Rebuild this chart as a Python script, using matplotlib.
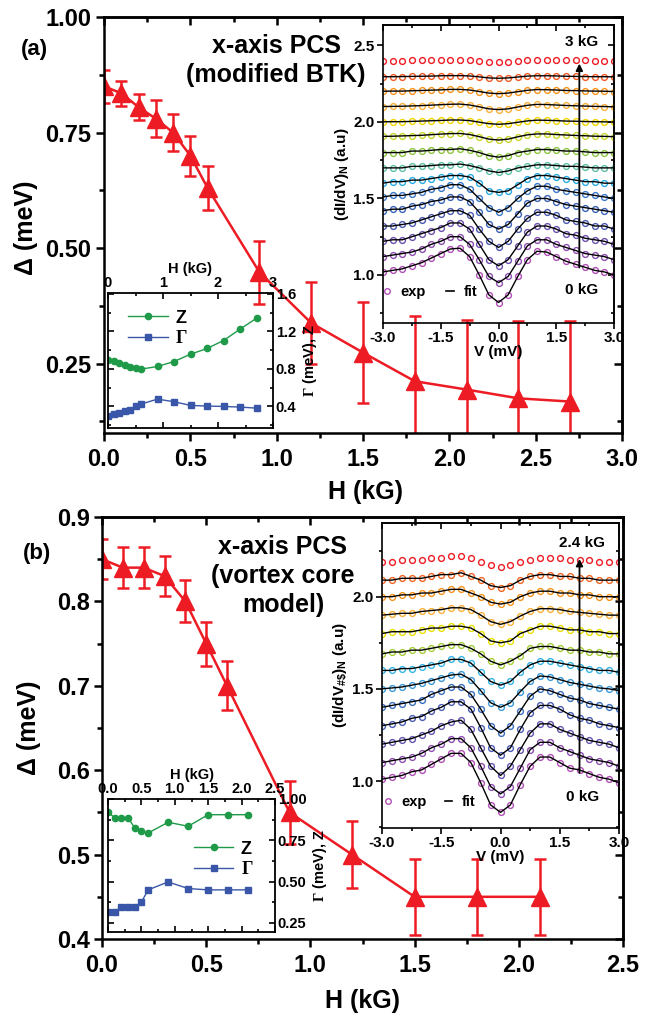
import matplotlib
matplotlib.use('Agg')
import matplotlib.pyplot as plt
from matplotlib.lines import Line2D
from matplotlib.ticker import MultipleLocator, FormatStrFormatter

plt.rcParams['font.family'] = ['Liberation Sans', 'DejaVu Sans']
plt.rcParams['font.weight'] = 'bold'
plt.rcParams['axes.labelweight'] = 'bold'
plt.rcParams['mathtext.fontset'] = 'custom'
plt.rcParams['mathtext.rm'] = 'Liberation Serif:bold'
plt.rcParams['mathtext.bf'] = 'Liberation Sans:bold'
plt.rcParams['mathtext.it'] = 'Liberation Sans:bold'
plt.rcParams['mathtext.default'] = 'bf'

# ---- main panels: gap vs field ----
H_a = [0, 0.1, 0.2, 0.3, 0.4, 0.5, 0.6, 0.9, 1.2, 1.5, 1.8, 2.1, 2.4, 2.7]
gap_a = [0.85, 0.835, 0.805, 0.78, 0.75, 0.70, 0.63, 0.448, 0.338, 0.274, 0.212, 0.194, 0.175, 0.168]
err_a = [0.035, 0.027, 0.028, 0.04, 0.04, 0.043, 0.048, 0.068, 0.088, 0.11, 0.142, 0.151, 0.168, 0.175]

H_b = [0, 0.1, 0.2, 0.3, 0.4, 0.5, 0.6, 0.9, 1.2, 1.5, 1.8, 2.1]
gap_b = [0.85, 0.84, 0.84, 0.83, 0.80, 0.75, 0.70, 0.55, 0.50, 0.45, 0.45, 0.45]
err_b = [0.024, 0.024, 0.024, 0.024, 0.025, 0.026, 0.029, 0.037, 0.04, 0.045, 0.045, 0.045]

# ---- small insets: Z and Gamma ----
z_a = [0.897, 0.883, 0.865, 0.844, 0.816, 0.805, 0.798, 0.826, 0.879, 0.957, 1.018, 1.103, 1.224, 1.341]
gam_a = [0.301, 0.322, 0.329, 0.347, 0.365, 0.400, 0.425, 0.478, 0.450, 0.411, 0.404, 0.400, 0.393, 0.382]
z_b = [0.919, 0.887, 0.887, 0.887, 0.825, 0.804, 0.794, 0.859, 0.835, 0.905, 0.905, 0.905]
gam_b = [0.317, 0.317, 0.345, 0.345, 0.345, 0.375, 0.450, 0.498, 0.458, 0.450, 0.450, 0.450]

# ---- spectra insets ----
V = [-3.0, -2.75, -2.5, -2.25, -2.0, -1.75, -1.5, -1.25, -1.0, -0.75, -0.5, -0.25, 0.0,
     0.25, 0.5, 0.75, 1.0, 1.25, 1.5, 1.75, 2.0, 2.25, 2.5, 2.75, 3.0]

spectra_a = [
    [1.02, 1.03, 1.04, 1.06, 1.08, 1.11, 1.14, 1.17, 1.175, 1.12, 1.00, 0.87, 0.82, 0.87, 0.99, 1.10, 1.155, 1.15, 1.12, 1.09, 1.07, 1.05, 1.03, 1.02, 1.00],
    [1.12, 1.13, 1.14, 1.15, 1.17, 1.20, 1.22, 1.25, 1.25, 1.20, 1.10, 0.99, 0.95, 0.99, 1.09, 1.19, 1.23, 1.23, 1.20, 1.18, 1.16, 1.14, 1.13, 1.12, 1.10],
    [1.22, 1.23, 1.23, 1.25, 1.27, 1.29, 1.31, 1.34, 1.34, 1.30, 1.20, 1.10, 1.06, 1.10, 1.19, 1.28, 1.32, 1.32, 1.30, 1.27, 1.26, 1.24, 1.23, 1.22, 1.20],
    [1.32, 1.32, 1.33, 1.34, 1.36, 1.38, 1.40, 1.42, 1.42, 1.39, 1.30, 1.22, 1.18, 1.22, 1.30, 1.37, 1.41, 1.41, 1.39, 1.36, 1.35, 1.34, 1.32, 1.32, 1.30],
    [1.42, 1.43, 1.43, 1.45, 1.46, 1.48, 1.49, 1.51, 1.51, 1.48, 1.41, 1.33, 1.30, 1.33, 1.40, 1.47, 1.50, 1.50, 1.48, 1.46, 1.45, 1.44, 1.43, 1.42, 1.41],
    [1.51, 1.52, 1.52, 1.53, 1.54, 1.56, 1.57, 1.59, 1.59, 1.56, 1.50, 1.44, 1.41, 1.44, 1.50, 1.55, 1.58, 1.58, 1.56, 1.55, 1.54, 1.53, 1.52, 1.51, 1.50],
    [1.60, 1.61, 1.61, 1.62, 1.62, 1.63, 1.64, 1.65, 1.65, 1.64, 1.60, 1.55, 1.54, 1.55, 1.59, 1.63, 1.65, 1.65, 1.64, 1.63, 1.62, 1.61, 1.61, 1.60, 1.60],
    [1.70, 1.70, 1.70, 1.71, 1.71, 1.715, 1.72, 1.72, 1.725, 1.715, 1.70, 1.68, 1.67, 1.68, 1.70, 1.71, 1.72, 1.72, 1.715, 1.71, 1.71, 1.705, 1.70, 1.70, 1.70],
    [1.80, 1.80, 1.80, 1.81, 1.81, 1.815, 1.82, 1.82, 1.825, 1.815, 1.80, 1.78, 1.77, 1.78, 1.80, 1.81, 1.82, 1.82, 1.815, 1.81, 1.81, 1.805, 1.80, 1.80, 1.80],
    [1.906, 1.907, 1.909, 1.911, 1.913, 1.917, 1.921, 1.924, 1.925, 1.918, 1.904, 1.888, 1.882, 1.888, 1.903, 1.916, 1.922, 1.922, 1.918, 1.915, 1.912, 1.91, 1.907, 1.906, 1.904],
    [2.001, 2.002, 2.002, 2.004, 2.006, 2.008, 2.01, 2.013, 2.013, 2.009, 1.999, 1.989, 1.985, 1.989, 1.998, 2.007, 2.012, 2.011, 2.009, 2.006, 2.005, 2.003, 2.002, 2.001, 1.999],
    [2.101, 2.102, 2.103, 2.105, 2.107, 2.11, 2.113, 2.116, 2.117, 2.111, 2.099, 2.086, 2.081, 2.086, 2.098, 2.109, 2.115, 2.114, 2.111, 2.108, 2.106, 2.104, 2.102, 2.101, 2.099],
    [2.201, 2.202, 2.202, 2.204, 2.206, 2.208, 2.21, 2.213, 2.213, 2.209, 2.199, 2.189, 2.185, 2.189, 2.198, 2.207, 2.212, 2.211, 2.209, 2.206, 2.205, 2.203, 2.202, 2.201, 2.199],
    [2.296, 2.296, 2.297, 2.298, 2.299, 2.30, 2.302, 2.303, 2.303, 2.301, 2.295, 2.288, 2.286, 2.288, 2.294, 2.30, 2.302, 2.302, 2.301, 2.299, 2.298, 2.297, 2.296, 2.296, 2.295],
    [2.40, 2.401, 2.401, 2.402, 2.403, 2.404, 2.405, 2.406, 2.407, 2.404, 2.40, 2.394, 2.392, 2.394, 2.399, 2.404, 2.406, 2.406, 2.404, 2.403, 2.402, 2.402, 2.401, 2.40, 2.40],
]
colors_a = ['#b04fb5', '#8e4fb0', '#6e50ae', '#4c5aaf', '#3a63b8', '#3b78c6', '#29abe2',
            '#5cc0a6', '#8dc63f', '#c9d52a', '#f2d600', '#fbb03b', '#f7941d', '#f15a24', '#ed1c24']
fit_a = [True] * 14 + [False]

spectra_b = [
    [1.01, 1.02, 1.03, 1.05, 1.06, 1.09, 1.12, 1.15, 1.15, 1.10, 0.99, 0.87, 0.83, 0.87, 0.98, 1.08, 1.13, 1.13, 1.10, 1.07, 1.06, 1.04, 1.02, 1.01, 0.99],
    [1.10, 1.11, 1.12, 1.13, 1.15, 1.18, 1.20, 1.23, 1.23, 1.18, 1.08, 0.97, 0.93, 0.97, 1.07, 1.17, 1.21, 1.21, 1.18, 1.16, 1.14, 1.12, 1.11, 1.10, 1.08],
    [1.20, 1.21, 1.22, 1.23, 1.25, 1.27, 1.30, 1.32, 1.33, 1.28, 1.18, 1.08, 1.03, 1.08, 1.17, 1.26, 1.31, 1.31, 1.28, 1.26, 1.24, 1.22, 1.21, 1.20, 1.18],
    [1.30, 1.31, 1.32, 1.34, 1.35, 1.38, 1.40, 1.43, 1.43, 1.39, 1.29, 1.18, 1.14, 1.18, 1.28, 1.37, 1.41, 1.41, 1.39, 1.36, 1.34, 1.33, 1.31, 1.30, 1.29],
    [1.40, 1.41, 1.42, 1.43, 1.44, 1.47, 1.49, 1.51, 1.51, 1.47, 1.39, 1.30, 1.26, 1.30, 1.38, 1.46, 1.50, 1.49, 1.47, 1.45, 1.44, 1.42, 1.41, 1.40, 1.39],
    [1.50, 1.505, 1.51, 1.52, 1.53, 1.545, 1.56, 1.575, 1.58, 1.55, 1.49, 1.425, 1.40, 1.425, 1.485, 1.54, 1.57, 1.565, 1.55, 1.535, 1.525, 1.515, 1.505, 1.50, 1.49],
    [1.60, 1.60, 1.61, 1.61, 1.62, 1.63, 1.64, 1.66, 1.66, 1.64, 1.59, 1.54, 1.52, 1.54, 1.59, 1.63, 1.65, 1.65, 1.64, 1.63, 1.62, 1.61, 1.60, 1.60, 1.59],
    [1.69, 1.70, 1.70, 1.71, 1.71, 1.72, 1.73, 1.74, 1.74, 1.72, 1.69, 1.65, 1.63, 1.65, 1.68, 1.72, 1.73, 1.73, 1.72, 1.71, 1.71, 1.70, 1.70, 1.69, 1.69],
    [1.80, 1.81, 1.81, 1.81, 1.82, 1.83, 1.83, 1.84, 1.84, 1.83, 1.80, 1.76, 1.75, 1.76, 1.80, 1.82, 1.84, 1.84, 1.83, 1.82, 1.82, 1.81, 1.81, 1.80, 1.80],
    [1.90, 1.905, 1.91, 1.91, 1.92, 1.925, 1.93, 1.94, 1.94, 1.93, 1.90, 1.865, 1.85, 1.865, 1.895, 1.92, 1.935, 1.935, 1.93, 1.92, 1.915, 1.91, 1.905, 1.90, 1.90],
    [2.00, 2.00, 2.01, 2.01, 2.02, 2.02, 2.03, 2.04, 2.04, 2.02, 2.00, 1.97, 1.96, 1.97, 2.00, 2.02, 2.03, 2.03, 2.02, 2.02, 2.01, 2.01, 2.00, 2.00, 2.00],
    [2.09, 2.09, 2.10, 2.10, 2.10, 2.11, 2.12, 2.12, 2.13, 2.11, 2.09, 2.06, 2.05, 2.06, 2.09, 2.11, 2.12, 2.12, 2.11, 2.11, 2.10, 2.10, 2.09, 2.09, 2.09],
    [2.19, 2.19, 2.20, 2.20, 2.20, 2.21, 2.21, 2.22, 2.22, 2.21, 2.19, 2.17, 2.16, 2.17, 2.19, 2.20, 2.21, 2.21, 2.21, 2.20, 2.20, 2.20, 2.19, 2.19, 2.19],
]
colors_b = ['#b04fb5', '#8e4fb0', '#6655b0', '#4a5cb5', '#3b6fc0', '#3b9ad8', '#35b5e6',
            '#a6ce39', '#e8e000', '#fbb03b', '#f7941d', '#f26522', '#ed1c24']
fit_b = [True] * 12 + [False]

red = '#ed1c24'
green = '#1f9a48'
blue = '#3a56a8'

W, Hfig = 662, 1013


def box(l, t, r, b):
    return [l / W, 1 - b / Hfig, (r - l) / W, (b - t) / Hfig]


def origin_ticks(ax, xmaj, xmin, ymaj, ymin, lw, big, small, size):
    for s in ax.spines.values():
        s.set_linewidth(lw)
    ax.xaxis.set_major_locator(MultipleLocator(xmaj))
    ax.xaxis.set_minor_locator(MultipleLocator(xmin))
    ax.yaxis.set_major_locator(MultipleLocator(ymaj))
    ax.yaxis.set_minor_locator(MultipleLocator(ymin))
    ax.tick_params(which='both', direction='out', width=lw, labelsize=size)
    ax.tick_params(which='major', length=big)
    ax.tick_params(which='minor', length=small)
    top = ax.secondary_xaxis('top')
    top.xaxis.set_major_locator(MultipleLocator(xmaj))
    top.xaxis.set_minor_locator(MultipleLocator(xmin))
    top.tick_params(which='both', direction='in', labeltop=False, width=lw)
    top.tick_params(which='major', length=big)
    top.tick_params(which='minor', length=small)
    top.spines['top'].set_linewidth(lw)
    right = ax.secondary_yaxis('right')
    right.yaxis.set_major_locator(MultipleLocator(ymaj))
    right.yaxis.set_minor_locator(MultipleLocator(ymin))
    right.tick_params(which='both', direction='in', labelright=False, width=lw)
    right.tick_params(which='major', length=big)
    right.tick_params(which='minor', length=small)
    right.spines['right'].set_linewidth(lw)


fig = plt.figure(figsize=(6.62, 10.13), dpi=100)

# ================= panel (a) =================
ax1 = fig.add_axes(box(104, 17, 622, 433))
ax1.errorbar(H_a, gap_a, yerr=err_a, fmt='-^', color=red, ms=13, lw=1.8,
             elinewidth=1.8, capsize=4.5, capthick=1.8)
ax1.set_xlim(0, 3.0)
ax1.set_ylim(0.1, 1.0)
origin_ticks(ax1, 0.5, 0.25, 0.25, 0.125, 1.8, 6, 3.5, 17)
ax1.xaxis.set_major_formatter(FormatStrFormatter('%.1f'))
ax1.yaxis.set_major_formatter(FormatStrFormatter('%.2f'))
ax1.tick_params(axis='x', pad=5)
ax1.tick_params(axis='y', pad=3)
ax1.set_xlabel('H (kG)', fontsize=18)
ax1.set_ylabel('Δ (meV)', fontsize=18)
ax1.xaxis.set_label_coords(0.504, -0.112)
ax1.yaxis.set_label_coords(-0.128, 0.493)
fig.text(34 / W, 1 - 50 / Hfig, '(a)', fontsize=16, ha='center', va='center')
fig.text(276 / W, 1 - 46 / Hfig, 'x-axis PCS', fontsize=18, ha='center', va='center')
fig.text(276 / W, 1 - 75 / Hfig, '(modified BTK)', fontsize=18, ha='center', va='center')

# spectra inset (a)
sa = fig.add_axes(box(383, 25, 614, 323))
sa.patch.set_alpha(0)
for vals, col, has_fit in zip(spectra_a, colors_a, fit_a):
    sa.plot(V, vals, 'o', mfc='none', mec=col, ms=4.2, mew=1.0)
    if has_fit:
        sa.plot(V, vals, '-', color='k', lw=1.0)
sa.set_xlim(-3, 3)
sa.set_ylim(0.686, 2.634)
origin_ticks(sa, 1.5, 0.75, 0.5, 0.25, 1.2, 4, 2.5, 11)
sa.xaxis.set_major_formatter(FormatStrFormatter('%.1f'))
sa.yaxis.set_major_formatter(FormatStrFormatter('%.1f'))
sa.tick_params(pad=2)
sa.set_xlabel('V (mV)', fontsize=11, labelpad=0)
sa.set_ylabel('(dI/dV)$_N$ (a.u)', fontsize=11, labelpad=2)
sa.annotate('', xy=(2.1, 2.40), xytext=(2.1, 1.03),
            arrowprops=dict(arrowstyle='-|>', color='k', lw=1.3, mutation_scale=10))
sa.text(2.17, 2.52, '3 kG', fontsize=11, ha='center', va='center')
sa.text(2.17, 0.90, '0 kG', fontsize=11, ha='center', va='center')
h_exp = Line2D([], [], ls='none', marker='o', mfc='none', mec=colors_a[0], ms=4, mew=1)
h_fit = Line2D([], [], color='k', lw=1.2)
sa.legend([h_exp, h_fit], ['exp', 'fit'], ncol=2, loc='center left',
          bbox_to_anchor=(0.0, 0.105), frameon=False, fontsize=10.5,
          handlelength=0.5, handletextpad=0.7, columnspacing=1.4,
          borderaxespad=0, borderpad=0)

# Z / Gamma inset (a)
za = fig.add_axes(box(108, 293, 273, 428))
za.patch.set_alpha(0)
za.plot(H_a, z_a, '-o', color=green, ms=4.5, lw=1.0, label='Z')
za.plot(H_a, gam_a, '-s', color=blue, ms=4.5, lw=1.0, label=r'$\mathrm{\Gamma}$')
za.set_xlim(0, 3)
za.set_ylim(0.17, 1.61)
for s in za.spines.values():
    s.set_linewidth(1.3)
za.xaxis.set_major_locator(MultipleLocator(1))
za.xaxis.set_minor_locator(MultipleLocator(0.5))
za.yaxis.set_major_locator(MultipleLocator(0.4))
za.yaxis.set_minor_locator(MultipleLocator(0.2))
za.xaxis.set_major_formatter(FormatStrFormatter('%d'))
za.yaxis.set_major_formatter(FormatStrFormatter('%.1f'))
za.tick_params(which='both', direction='in', top=True, bottom=True, left=True, right=True,
               labeltop=True, labelbottom=False, labelleft=False, labelright=True,
               labelsize=10.5, width=1.2, pad=2)
za.tick_params(which='major', length=4)
za.tick_params(which='minor', length=2.5)
za.xaxis.set_label_position('top')
za.yaxis.set_label_position('right')
za.set_xlabel('H (kG)', fontsize=10.5, labelpad=2)
za.set_ylabel(r'$\mathrm{\Gamma}$ (meV), Z', fontsize=10.5, labelpad=3)
za.legend(loc='upper left', bbox_to_anchor=(0.08, 0.93), frameon=False, fontsize=13,
          handlelength=2.2, handletextpad=0.4, labelspacing=0.2, borderaxespad=0)

# ================= panel (b) =================
ax2 = fig.add_axes(box(102, 517, 623, 939))
ax2.errorbar(H_b, gap_b, yerr=err_b, fmt='-^', color=red, ms=13, lw=1.8,
             elinewidth=1.8, capsize=4.5, capthick=1.8)
ax2.set_xlim(0, 2.5)
ax2.set_ylim(0.4, 0.9)
origin_ticks(ax2, 0.5, 0.25, 0.1, 0.05, 1.8, 6, 3.5, 17)
ax2.xaxis.set_major_formatter(FormatStrFormatter('%.1f'))
ax2.yaxis.set_major_formatter(FormatStrFormatter('%.1f'))
ax2.tick_params(axis='x', pad=5)
ax2.tick_params(axis='y', pad=3)
ax2.set_xlabel('H (kG)', fontsize=18)
ax2.set_ylabel('Δ (meV)', fontsize=18)
ax2.xaxis.set_label_coords(0.50, -0.118)
ax2.yaxis.set_label_coords(-0.118, 0.50)
fig.text(37 / W, 1 - 553 / Hfig, '(b)', fontsize=16, ha='center', va='center')
fig.text(283 / W, 1 - 547 / Hfig, 'x-axis PCS', fontsize=18, ha='center', va='center')
fig.text(283 / W, 1 - 576 / Hfig, '(vortex core', fontsize=18, ha='center', va='center')
fig.text(283 / W, 1 - 605 / Hfig, 'model)', fontsize=18, ha='center', va='center')

# spectra inset (b)
sb = fig.add_axes(box(382, 523, 619, 828))
sb.patch.set_alpha(0)
for vals, col, has_fit in zip(spectra_b, colors_b, fit_b):
    sb.plot(V, vals, 'o', mfc='none', mec=col, ms=4.2, mew=1.0)
    if has_fit:
        sb.plot(V, vals, '-', color='k', lw=1.0)
sb.set_xlim(-3, 3)
sb.set_ylim(0.745, 2.40)
origin_ticks(sb, 1.5, 0.75, 0.5, 0.25, 1.2, 4, 2.5, 11)
sb.xaxis.set_major_formatter(FormatStrFormatter('%.1f'))
sb.yaxis.set_major_formatter(FormatStrFormatter('%.1f'))
sb.tick_params(pad=2)
sb.set_xlabel('V (mV)', fontsize=11, labelpad=0)
sb.set_ylabel(r'(dI/dV$_{\#\$}$)$_N$ (a.u)', fontsize=11, labelpad=2)
sb.annotate('', xy=(2.0, 2.22), xytext=(2.0, 1.03),
            arrowprops=dict(arrowstyle='-|>', color='k', lw=1.3, mutation_scale=10))
sb.text(2.06, 2.29, '2.4 kG', fontsize=11, ha='center', va='center')
sb.text(2.09, 0.913, '0 kG', fontsize=11, ha='center', va='center')
h_exp_b = Line2D([], [], ls='none', marker='o', mfc='none', mec=colors_b[0], ms=4, mew=1)
sb.legend([h_exp_b, h_fit], ['exp', 'fit'], ncol=2, loc='center left',
          bbox_to_anchor=(0.01, 0.086), frameon=False, fontsize=10.5,
          handlelength=0.5, handletextpad=0.7, columnspacing=1.2,
          borderaxespad=0, borderpad=0)

# Z / Gamma inset (b)
zb = fig.add_axes(box(108, 799, 275, 932))
zb.patch.set_alpha(0)
zb.plot(H_b, z_b, '-o', color=green, ms=4.5, lw=1.0, label='Z')
zb.plot(H_b, gam_b, '-s', color=blue, ms=4.5, lw=1.0, label=r'$\mathrm{\Gamma}$')
zb.set_xlim(0, 2.5)
zb.set_ylim(0.195, 1.0)
for s in zb.spines.values():
    s.set_linewidth(1.3)
zb.xaxis.set_major_locator(MultipleLocator(0.5))
zb.xaxis.set_minor_locator(MultipleLocator(0.25))
zb.yaxis.set_major_locator(MultipleLocator(0.25))
zb.yaxis.set_minor_locator(MultipleLocator(0.125))
zb.xaxis.set_major_formatter(FormatStrFormatter('%.1f'))
zb.yaxis.set_major_formatter(FormatStrFormatter('%.2f'))
zb.tick_params(which='both', direction='in', top=True, bottom=True, left=True, right=True,
               labeltop=True, labelbottom=False, labelleft=False, labelright=True,
               labelsize=10.5, width=1.2, pad=2)
zb.tick_params(which='major', length=4)
zb.tick_params(which='minor', length=2.5)
zb.xaxis.set_label_position('top')
zb.yaxis.set_label_position('right')
zb.set_xlabel('H (kG)', fontsize=10.5, labelpad=2)
zb.set_ylabel(r'$\mathrm{\Gamma}$ (meV), Z', fontsize=10.5, labelpad=3)
zb.legend(loc='upper left', bbox_to_anchor=(0.47, 0.74), frameon=False, fontsize=13,
          handlelength=2.2, handletextpad=0.4, labelspacing=0.2, borderaxespad=0)

fig.savefig('out.png', dpi=100)
